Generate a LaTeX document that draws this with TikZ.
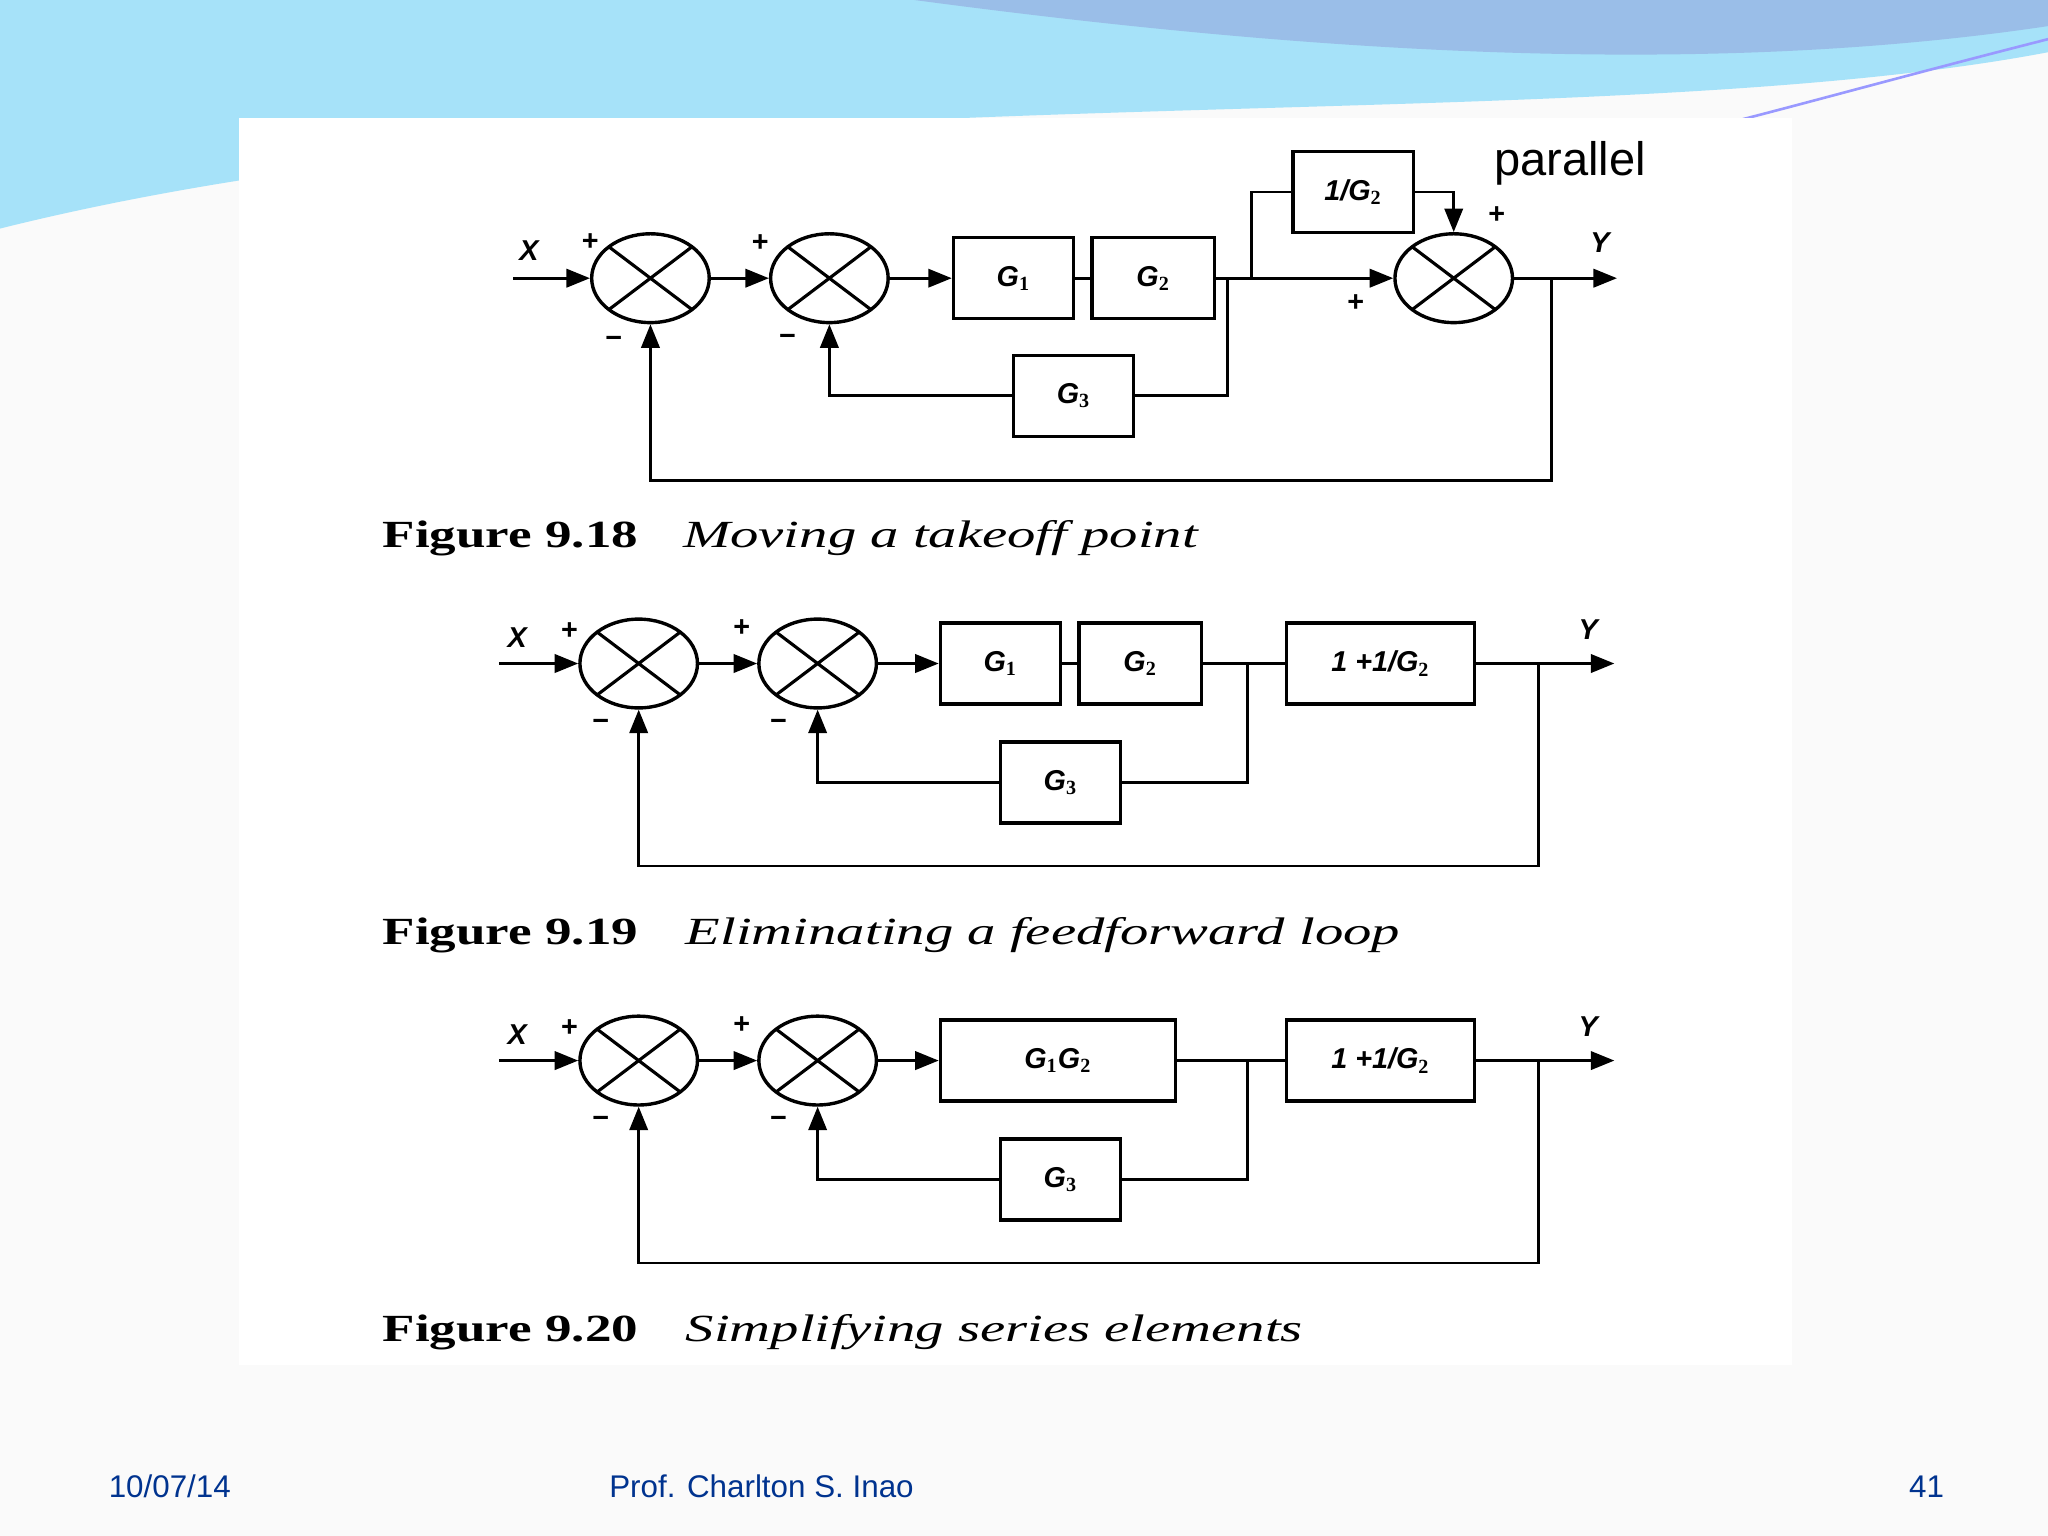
\documentclass[tikz,border=0pt]{standalone}
\usepackage{fontspec}
\setmainfont{Liberation Serif}
\newfontfamily\sfx{Liberation Sans}
\usetikzlibrary{arrows.meta,shapes.geometric}
\begin{document}
\begin{tikzpicture}[x=0.5pt,y=-0.5pt,
 sum/.style={draw,line width=1.3pt,ellipse,minimum width=45pt,minimum height=34pt,inner sep=0pt,
  path picture={\draw[line width=1.2pt] (path picture bounding box.north west)--(path picture bounding box.south east)
   (path picture bounding box.north east)--(path picture bounding box.south west);}},
 blk/.style={draw,line width=1.3pt,rectangle,inner sep=0pt,font=\sfx\bfseries\itshape\fontsize{11}{12}\selectfont},
 ln/.style={line width=1.1pt},
 ar/.style={ln,-{Triangle[length=9pt,width=7pt]}},
 lab/.style={font=\sfx\bfseries\itshape\fontsize{11}{12}\selectfont},
 sg/.style={font=\sfx\bfseries\fontsize{11}{11}\selectfont},
 figcap/.style={anchor=west,font=\fontsize{14}{16}\selectfont},
 foot/.style={font=\sfx\fontsize{12}{14}\selectfont,text=blue!45!black!80!cyan}]
\useasboundingbox (0,0) rectangle (1568,1176);
\fill[gray!4] (0,0) rectangle (1568,1176);
\fill[cyan!35] (0,0) -- (1568,0) -- (1568,40) .. controls (1200,110) and (500,50) .. (0,175) -- cycle;
\fill[cyan!60!blue!40] (700,0) -- (1568,0) -- (1568,20) .. controls (1300,60) and (1000,40) .. (700,0);
\draw[blue!40,line width=1pt] (1568,30) .. controls (1450,60) and (1380,80) .. (1300,100);
\fill[white] (183,90) rectangle (1372,1045);
\node[font=\sfx\fontsize{18}{20}\selectfont] (par) at (1202,125) {parallel};

% ---------- Figure 9.18 ----------
\node[sum] (a1) at (498,213) {};
\node[sum] (a2) at (635,213) {};
\node[blk,minimum width=46pt,minimum height=31pt] (ag1) at (776,213) {G$_{\mathbf 1}$};
\node[blk,minimum width=47pt,minimum height=31pt] (ag2) at (883,213) {G$_{\mathbf 2}$};
\node[blk,minimum width=46pt,minimum height=31pt] (ag4) at (1036,147) {1/G$_{\mathbf 2}$};
\node[sum] (a3) at (1113,213) {};
\node[blk,minimum width=46pt,minimum height=31pt] (ag3) at (822,303) {G$_{\mathbf 3}$};
\coordinate (ax) at (393,213); \coordinate (ay) at (1238,213);
\coordinate (at) at (940,213); \coordinate (at2) at (958,213); \coordinate (ao) at (1188,213);
\node[lab] at (405,192) {X}; \node[lab] at (1225,186) {Y};
\draw[ar] (ax) -- (a1.west);
\draw[ar] (a1.east) -- (a2.west);
\draw[ar] (a2.east) -- (ag1.west);
\draw[ln] (ag1.east) -- (ag2.west);
\draw[ar] (ag2.east) -- (a3.west);
\draw[ln] (at) |- (ag3.east);
\draw[ar] (ag3.west) -| (a2.south);
\draw[ln] (at2) |- (ag4.west);
\draw[ar] (ag4.east) -| (a3.north);
\draw[ar] (a3.east) -- (ay);
\draw[ar] (ao) |- (700,368) -| (a1.south);
\node[sg] at (452,185) {+}; \node[sg] at (470,262) {\textminus};
\node[sg] at (582,186) {+}; \node[sg] at (603,260) {\textminus};
\node[sg] at (1146,165) {+}; \node[sg] at (1038,232) {+};
\node[figcap] (c18a) at (286,412) {\scalebox{1.45}[1.05]{\textbf{Figure 9.18}}};
\node[figcap] (c18b) at (516,412) {\scalebox{1.55}[1.05]{\textit{Moving a takeoff point}}};

% ---------- Figure 9.19 ----------
\node[sum] (b1) at (489,508) {};
\node[sum] (b2) at (626,508) {};
\node[blk,minimum width=46pt,minimum height=31pt] (bg1) at (766,508) {G$_{\mathbf 1}$};
\node[blk,minimum width=47pt,minimum height=31pt] (bg2) at (873,508) {G$_{\mathbf 2}$};
\node[blk,minimum width=72pt,minimum height=31pt] (bg4) at (1057,508) {1 +1/G$_{\mathbf 2}$};
\node[blk,minimum width=46pt,minimum height=31pt] (bg3) at (812,599) {G$_{\mathbf 3}$};
\coordinate (bx) at (382,508); \coordinate (by) at (1236,508);
\coordinate (bt) at (955,508); \coordinate (bo) at (1178,508);
\node[lab] at (396,488) {X}; \node[lab] at (1216,482) {Y};
\draw[ar] (bx) -- (b1.west);
\draw[ar] (b1.east) -- (b2.west);
\draw[ar] (b2.east) -- (bg1.west);
\draw[ln] (bg1.east) -- (bg2.west);
\draw[ln] (bg2.east) -- (bg4.west);
\draw[ln] (bt) |- (bg3.east);
\draw[ar] (bg3.west) -| (b2.south);
\draw[ar] (bg4.east) -- (by);
\draw[ar] (bo) |- (700,663) -| (b1.south);
\node[sg] at (436,483) {+}; \node[sg] at (460,555) {\textminus};
\node[sg] at (568,481) {+}; \node[sg] at (596,555) {\textminus};
\node[figcap] (c19a) at (286,716) {\scalebox{1.45}[1.05]{\textbf{Figure 9.19}}};
\node[figcap] (c19b) at (518,716) {\scalebox{1.55}[1.05]{\textit{Eliminating a feedforward loop}}};

% ---------- Figure 9.20 ----------
\node[sum] (c1) at (489,812) {};
\node[sum] (c2) at (626,812) {};
\node[blk,minimum width=90pt,minimum height=31pt] (cg1) at (810,812) {G$_{\mathbf 1}$G$_{\mathbf 2}$};
\node[blk,minimum width=72pt,minimum height=31pt] (cg4) at (1057,812) {1 +1/G$_{\mathbf 2}$};
\node[blk,minimum width=46pt,minimum height=31pt] (cg3) at (812,903) {G$_{\mathbf 3}$};
\coordinate (cx) at (382,812); \coordinate (cy) at (1236,812);
\coordinate (ct) at (955,812); \coordinate (co) at (1178,812);
\node[lab] at (396,792) {X}; \node[lab] at (1216,786) {Y};
\draw[ar] (cx) -- (c1.west);
\draw[ar] (c1.east) -- (c2.west);
\draw[ar] (c2.east) -- (cg1.west);
\draw[ln] (cg1.east) -- (cg4.west);
\draw[ln] (ct) |- (cg3.east);
\draw[ar] (cg3.west) -| (c2.south);
\draw[ar] (cg4.east) -- (cy);
\draw[ar] (co) |- (700,967) -| (c1.south);
\node[sg] at (436,787) {+}; \node[sg] at (460,859) {\textminus};
\node[sg] at (568,785) {+}; \node[sg] at (596,859) {\textminus};
\node[figcap] (c20a) at (286,1020) {\scalebox{1.45}[1.05]{\textbf{Figure 9.20}}};
\node[figcap] (c20b) at (518,1020) {\scalebox{1.55}[1.05]{\textit{Simplifying series elements}}};

\node[foot] (f1) at (130,1138) {10/07/14};
\node[foot] (f2) at (583,1138) {Prof. Charlton S. Inao};
\node[foot] (f3) at (1475,1138) {41};
\end{tikzpicture}
\end{document}
